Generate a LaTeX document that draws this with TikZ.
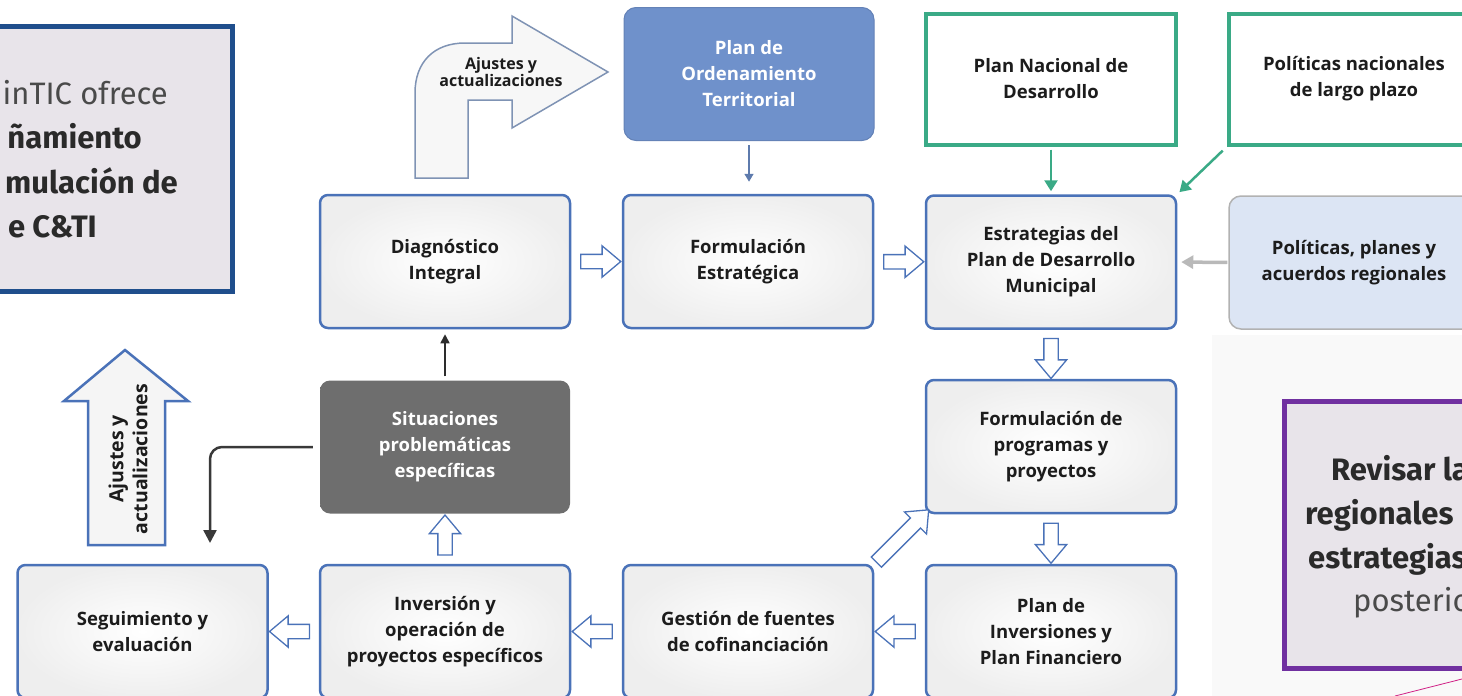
\documentclass[tikz,border=0pt]{standalone}
\usepackage{fontspec}
\setmainfont{Open Sans}
\newfontfamily\sidefont{Fira Sans}
\usetikzlibrary{shapes.arrows,calc,arrows.meta}
\definecolor{boxblue}{HTML}{4A72B8}
\definecolor{potblue}{HTML}{6F91CB}
\definecolor{nacgreen}{HTML}{3AAA86}
\definecolor{sitgray}{HTML}{6E6E6E}
\definecolor{regblue}{HTML}{DCE5F4}
\definecolor{sidefill}{HTML}{E8E4EA}
\definecolor{sideblue}{HTML}{1F4E8C}
\definecolor{sidepurple}{HTML}{7030A0}
\definecolor{txt}{HTML}{1C1C1C}
\definecolor{sidetxt}{HTML}{2A2A2A}
\begin{document}
\begin{tikzpicture}[x=1pt,y=-1pt,
  stage/.style={draw=boxblue,line width=2.5pt,rounded corners=8pt,inner color=white,outer color=gray!13,minimum width=250pt,minimum height=133pt,align=center,text=txt,font=\bfseries\fontsize{18.5}{26}\selectfont},
  source/.style={draw=nacgreen,line width=4pt,fill=white,minimum width=250pt,minimum height=131pt,align=center,text=txt,font=\bfseries\fontsize{18.5}{26}\selectfont},
  hollow/.style={single arrow,draw=boxblue,line width=1.3pt,fill=white,minimum height=40pt,inner sep=6.5pt,single arrow head extend=8.5pt,single arrow tip angle=80},
  greenarrow/.style={nacgreen,line width=2.5pt,-{Triangle[length=11pt,width=13pt]}},
  sidebold/.style={inner sep=0pt,text=sidetxt,font=\sidefont\bfseries\fontsize{31}{35}\selectfont},
  sidelight/.style={inner sep=0pt,text=sidetxt!85,font=\sidefont\fontsize{31}{35}\selectfont}]
\useasboundingbox (0,0) rectangle (1462,696);
\fill[gray!5] (1212,335) rectangle (1462,696);
\draw[sideblue,line width=5pt,fill=sidefill] (-20,26.5) rectangle (232.5,291.5);
\node[sidelight,anchor=base east] (mt1) at (168,104) {inTIC ofrece};
\node[sidebold,anchor=base east] (mt2) at (142,148) {ñamiento};
\node[sidebold,anchor=base east] (mt3) at (178,193) {mulación de};
\node[sidebold,anchor=base east] (mt4) at (97,237) {e C\&TI};
\draw[sidepurple,line width=5pt,fill=sidefill] (1284.5,401.5) rectangle (1500,668);
\node[sidebold,anchor=base west] (rv1) at (1331,480) {Revisar la};
\node[sidebold,anchor=base west] (rv2) at (1305,524) {regionales};
\node[sidebold,anchor=base west] (rv3) at (1308,568) {estrategias};
\node[sidelight,anchor=base west] (rv4) at (1353,611) {posterio};
\draw[magenta!70!violet,line width=0.8pt] (1395,696) -- (1462,679);
\node[stage,fill=potblue,draw=potblue!90!black,line width=1pt,rounded corners=12pt,text=white,inner color=potblue,outer color=potblue] (pot) at (749,74) {Plan de\\Ordenamiento\\Territorial};
\node[source] (nac) at (1051,79) {Plan Nacional de\\Desarrollo};
\node[source] (lpn) at (1354,79) {Políticas nacionales\\de largo plazo};
\node[stage] (diag) at (445,261.5) {Diagnóstico\\Integral};
\node[stage] (form) at (748,261.5) {Formulación\\Estratégica};
\node[stage] (strat) at (1051,262) {Estrategias del\\Plan de Desarrollo\\Municipal};
\node[stage,draw=gray!60,line width=1.5pt,rounded corners=12pt,inner color=regblue,outer color=regblue] (reg) at (1354,262.5) {Políticas, planes y\\acuerdos regionales};
\node[stage,draw=none,rounded corners=10pt,inner color=sitgray,outer color=sitgray,text=white] (sit) at (445,447) {Situaciones\\problemáticas\\específicas};
\node[stage] (prog) at (1051,446.5) {Formulación de\\programas y\\proyectos};
\node[stage] (seg) at (142.5,631.5) {Seguimiento y\\evaluación};
\node[stage] (inv) at (445,631.5) {Inversión y\\operación de\\proyectos específicos};
\node[stage] (gest) at (748,631.5) {Gestión de fuentes\\de cofinanciación};
\node[stage] (pif) at (1051,631.5) {Plan de\\Inversiones y\\Plan Financiero};
\node[hollow] (h1) at ($(diag.east)!0.5!(form.west)$) {};
\node[hollow] (h2) at ($(form.east)!0.5!(strat.west)$) {};
\node[hollow,rotate=-90] (h3) at ($(strat.south)!0.5!(prog.north)$) {};
\node[hollow,rotate=-90] (h4) at ($(prog.south)!0.5!(pif.north)$) {};
\node[hollow,rotate=180] (h5) at ($(pif.west)!0.5!(gest.east)$) {};
\node[hollow,rotate=180] (h6) at ($(gest.west)!0.5!(inv.east)$) {};
\node[hollow,rotate=180] (h7) at ($(inv.west)!0.5!(seg.east)$) {};
\node[hollow,rotate=90] (h8) at ($(inv.north)!0.5!(sit.south)$) {};
\node[hollow,rotate=45,minimum height=74pt] (h9) at ($(gest.north east)!0.5!(prog.south west)$) {};
\draw[potblue!85!black,line width=1.6pt,shorten <=4pt,shorten >=12pt,-{Triangle[length=8pt,width=9pt]}] (pot.south) -- (pot.south |- form.north);
\draw[gray!35!black,line width=1.6pt,shorten <=3pt,shorten >=5pt,-{Triangle[length=9pt,width=9pt]}] (sit.north) -- (diag.south);
\coordinate (segin) at (210,543);
\draw[gray!45!black,line width=2.5pt,rounded corners=12pt,shorten <=6pt,-{Triangle[length=13pt,width=13pt]}] (sit.west) -| (segin);
\draw[greenarrow,shorten <=3pt,shorten >=3pt] (nac.south) -- (strat.north);
\draw[greenarrow,shorten <=6pt,shorten >=3pt] (lpn.south west) -- (strat.north east);
\draw[gray!55,line width=3.5pt,shorten <=1pt,shorten >=4pt,-{Triangle[length=12pt,width=13pt]}] (reg.west) -- (strat.east);
\draw[draw=boxblue!60!gray!80,line width=1.5pt,fill=gray!6] (415,178) -- (415,93) .. controls (415,62) and (434,43) .. (465,43) -- (512,43) -- (512,16) -- (608,72) -- (512,128) -- (512,100) -- (468,100) -- (468,178) -- cycle;
\node[align=center,text=txt,font=\bfseries\fontsize{16}{17.5}\selectfont] (ajh) at (501,72) {Ajustes y\\actualizaciones};
\draw[draw=boxblue,line width=2.5pt,fill=gray!8] (88,545) -- (88,401) -- (64,401) -- (125,350) -- (188,401) -- (165,401) -- (165,545) -- cycle;
\node[rotate=90,align=center,text=txt,font=\bfseries\fontsize{19.5}{24}\selectfont] (ajv) at (128,459) {Ajustes y\\actualizaciones};
\end{tikzpicture}
\end{document}
